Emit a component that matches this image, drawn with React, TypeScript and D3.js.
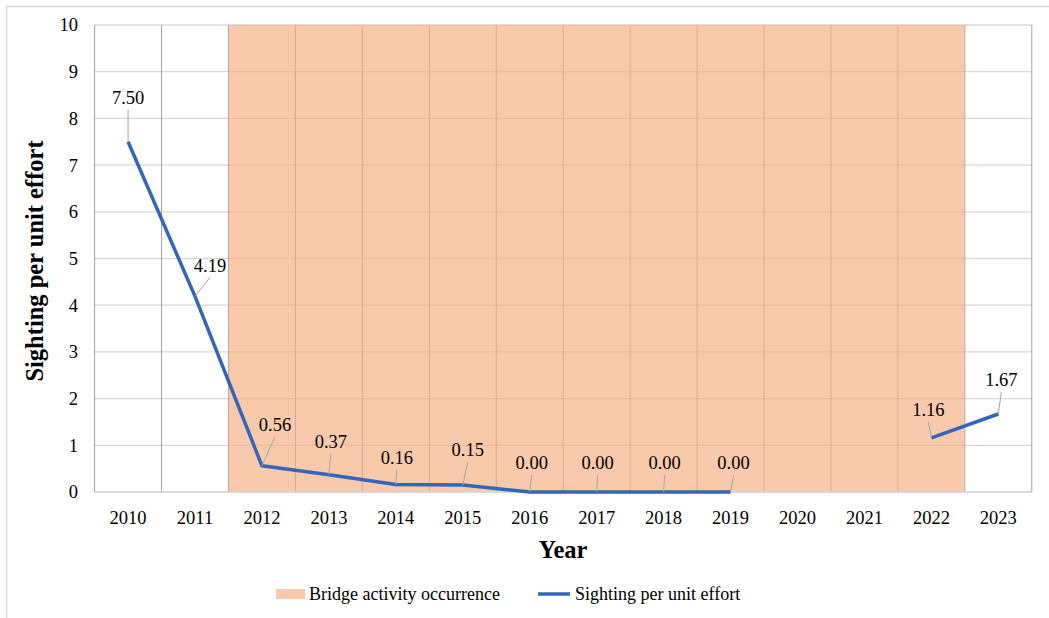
import React from "react";
import * as d3 from "d3";

const years = ["2010","2011","2012","2013","2014","2015","2016","2017","2018","2019","2020","2021","2022","2023"];
const spue: (number | null)[] = [7.5, 4.19, 0.56, 0.37, 0.16, 0.15, 0.0, 0.0, 0.0, 0.0, null, null, 1.16, 1.67];
const bridgeActivity = [0, 0, 1, 1, 1, 1, 1, 1, 1, 1, 1, 1, 1, 0];
const yTicks = [0, 1, 2, 3, 4, 5, 6, 7, 8, 9, 10];
// label offsets (px) from point: [dx of label center, dy of label center]
const labelOffsets: [number, number][] = [
  [0, -44], [15, -31], [13, -41], [2, -33], [1, -27], [5, -35], [2, -29], [1, -29], [1, -29], [3, -29], [0, 0], [0, 0], [-3, -28], [3, -34],
];

const W = 1049, H = 618;
const M = { left: 94.6, right: 1031.8, top: 25, bottom: 492 };

export default function App() {
  const x = d3.scaleBand<string>().domain(years).range([M.left, M.right]).padding(0);
  const y = d3.scaleLinear().domain([0, 10]).range([M.bottom, M.top]);
  const bw = x.bandwidth();
  const cx = (yr: string) => (x(yr) as number) + bw / 2;

  const line = d3
    .line<number | null>()
    .defined((d) => d !== null)
    .x((_, i) => cx(years[i]))
    .y((d) => y(d as number));

  const boundaries = years.map((yr) => x(yr) as number).concat([M.right]);

  return (
    <svg width={W} height={H} style={{ position: "absolute", left: 0, top: 0, background: "#fff" }}>
      <style>{`text { font-family: "Liberation Serif", "Times New Roman", Times, serif; }`}</style>
      <rect x={6.5} y={6.5} width={W + 10} height={H + 10} fill="#fff" stroke="#d9d9d9" strokeWidth={1.5} />
      {yTicks.map((t) => (
        <line key={"h" + t} x1={M.left} x2={M.right} y1={y(t)} y2={y(t)} stroke="#d9d9d9" strokeWidth={1.3} />
      ))}
      {boundaries.map((b, i) => (
        <line key={"v" + i} x1={b} x2={b} y1={M.top} y2={M.bottom} stroke="#a0a0a0" strokeWidth={1} />
      ))}
      {years.map((yr, i) =>
        bridgeActivity[i] ? (
          <rect key={"b" + yr} x={x(yr)} y={y(10)} width={bw} height={y(0) - y(10)} fill="#f4b183" fillOpacity={0.68} />
        ) : null
      )}
      <line x1={M.left} x2={M.right} y1={M.bottom} y2={M.bottom} stroke="#d9d9d9" strokeWidth={1.5} />
      {yTicks.map((t) => (
        <text key={"yt" + t} x={78} y={y(t)} dy="0.35em" textAnchor="end" fontSize={18.5} fill="#000">
          {t}
        </text>
      ))}
      {years.map((yr) => (
        <text key={"xt" + yr} x={cx(yr)} y={524} textAnchor="middle" fontSize={18.5} fill="#000">
          {yr}
        </text>
      ))}
      <path d={line(spue) || ""} fill="none" stroke="#3366b8" strokeWidth={3.5} strokeLinejoin="round" />
      {spue.map((v, i) => {
        if (v === null) return null;
        const px = cx(years[i]);
        const py = y(v);
        const [dx, dy] = labelOffsets[i];
        const lx = px + dx;
        const ly = py + dy;
        return (
          <g key={"l" + i}>
            <line x1={px} y1={py} x2={lx} y2={ly + 12} stroke="#a6a6a6" strokeWidth={1} />
            <text x={lx} y={ly} dy="0.35em" textAnchor="middle" fontSize={18.5} fill="#000">
              {v.toFixed(2)}
            </text>
          </g>
        );
      })}
      <text x={563} y={558} textAnchor="middle" fontSize={24.5} fontWeight="bold" fill="#000">
        Year
      </text>
      <text transform={`translate(43,261) rotate(-90)`} textAnchor="middle" fontSize={24.5} fontWeight="bold" fill="#000">
        Sighting per unit effort
      </text>
      <rect x={276} y={589} width={29} height={10} fill="#f4b183" fillOpacity={0.68} />
      <text x={309} y={594} dy="0.35em" fontSize={18} fill="#000">Bridge activity occurrence</text>
      <line x1={538} x2={570} y1={594} y2={594} stroke="#3366b8" strokeWidth={3.5} />
      <text x={575} y={594} dy="0.35em" fontSize={18} fill="#000">Sighting per unit effort</text>
    </svg>
  );
}
